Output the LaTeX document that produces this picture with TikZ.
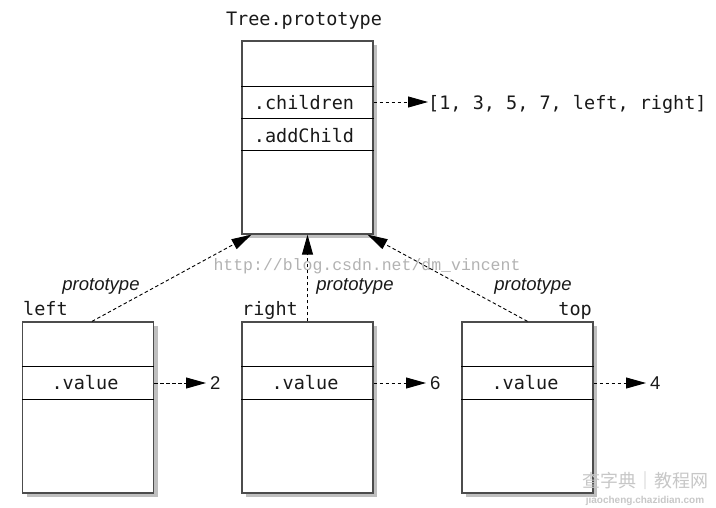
\documentclass[tikz,border=0pt]{standalone}
\usepackage{fontspec}
\setmonofont{DejaVu Sans Mono}
\setsansfont{Liberation Sans}
\newfontfamily\wmfont{Liberation Mono}
\newfontfamily\cjkfont{Noto Sans CJK SC}
\usetikzlibrary{shadows,arrows.meta}
\begin{document}
\begin{tikzpicture}[x=1pt,y=-1pt,
  objbox/.style={draw=black!70, line width=1.3pt, fill=white, inner sep=0pt,
    drop shadow={shadow xshift=4pt, shadow yshift=-4pt, opacity=0.5}},
  mono/.style={font=\ttfamily\fontsize{18.5}{22}\selectfont, inner sep=0pt, text=black!90},
  protolbl/.style={font=\sffamily\itshape\fontsize{18.5}{22}\selectfont, inner sep=0pt, text=black!90},
  numlbl/.style={font=\sffamily\fontsize{18.5}{22}\selectfont, inner sep=0pt, text=black!90},
  ptr/.style={draw=black, line width=0.9pt, dash pattern=on 3.5pt off 2.5pt,
    -{Triangle[length=20pt,width=11pt]}},
  divider/.style={draw=black, line width=0.8pt}]
\useasboundingbox (0,0) rectangle (716,507);

% watermark
\node[font=\wmfont\fontsize{16.5}{20}\selectfont, text=black!30, inner sep=0pt, anchor=base]
  (wm) at (367,270) {http://blog.csdn.net/dm\_vincent};

% Tree.prototype
\node[objbox, minimum width=131pt, minimum height=193pt] (tree) at (307.5,137.5) {};
\draw[divider] ([yshift=-46pt]tree.north west) -- ([yshift=-46pt]tree.north east);
\draw[divider] ([yshift=-78pt]tree.north west) -- ([yshift=-78pt]tree.north east);
\draw[divider] ([yshift=-110pt]tree.north west) -- ([yshift=-110pt]tree.north east);
\node[mono, anchor=base] (treelbl) at (304,25) {Tree.prototype};
\node[mono, anchor=base] (ch) at (304,109) {.children};
\node[mono, anchor=base] (ac) at (304,142) {.addChild};
\node[mono, anchor=base west] (list) at (428,109) {[1, 3, 5, 7, left, right]};
\draw[ptr] (tree.east |- 0,102) -- (list.west |- 0,102);

% left
\node[objbox, minimum width=131pt, minimum height=171pt] (lb) at (88,407.5) {};
\draw[divider] ([yshift=-45pt]lb.north west) -- ([yshift=-45pt]lb.north east);
\draw[divider] ([yshift=-78pt]lb.north west) -- ([yshift=-78pt]lb.north east);
\node[mono, anchor=base] (lv) at (85,389) {.value};
\node[mono, anchor=base west] (lname) at (23,315) {left};
\node[numlbl, anchor=base west] (n2) at (210,389) {2};
\draw[ptr] (lb.east |- 0,383) -- ([xshift=-4pt]n2.west |- 0,383);

% right
\node[objbox, minimum width=131pt, minimum height=171pt] (mb) at (307.5,407.5) {};
\draw[divider] ([yshift=-45pt]mb.north west) -- ([yshift=-45pt]mb.north east);
\draw[divider] ([yshift=-78pt]mb.north west) -- ([yshift=-78pt]mb.north east);
\node[mono, anchor=base] (mv) at (305,389) {.value};
\node[mono, anchor=base west] (mname) at (242,315) {right};
\node[numlbl, anchor=base west] (n6) at (430,389) {6};
\draw[ptr] (mb.east |- 0,383) -- ([xshift=-4pt]n6.west |- 0,383);

% top
\node[objbox, minimum width=131pt, minimum height=171pt] (rb) at (527.5,407.5) {};
\draw[divider] ([yshift=-45pt]rb.north west) -- ([yshift=-45pt]rb.north east);
\draw[divider] ([yshift=-78pt]rb.north west) -- ([yshift=-78pt]rb.north east);
\node[mono, anchor=base] (rv) at (525,389) {.value};
\node[mono, anchor=base east] (rname) at (592,315) {top};
\node[numlbl, anchor=base west] (n4) at (650,389) {4};
\draw[ptr] (rb.east |- 0,383) -- ([xshift=-4pt]n4.west |- 0,383);

% prototype links
\draw[ptr] ([xshift=4pt]lb.north) -- ([xshift=-56pt]tree.south);
\draw[ptr] (mb.north) -- (tree.south);
\draw[ptr] (rb.north) -- ([xshift=60pt]tree.south);
\node[protolbl, anchor=base] (p1) at (101,290) {prototype};
\node[protolbl, anchor=base] (p2) at (355,290) {prototype};
\node[protolbl, anchor=base] (p3) at (533,290) {prototype};

% bottom-right watermark
\node[font=\cjkfont\fontsize{18}{20}\selectfont, text=black!22, inner sep=0pt, anchor=base]
  (wm2) at (645,487) {查字典｜教程网};
\node[font=\sffamily\bfseries\fontsize{10}{12}\selectfont, text=black!22, inner sep=0pt, anchor=base]
  (wm3) at (645,503) {jiaocheng.chazidian.com};
\end{tikzpicture}
\end{document}
